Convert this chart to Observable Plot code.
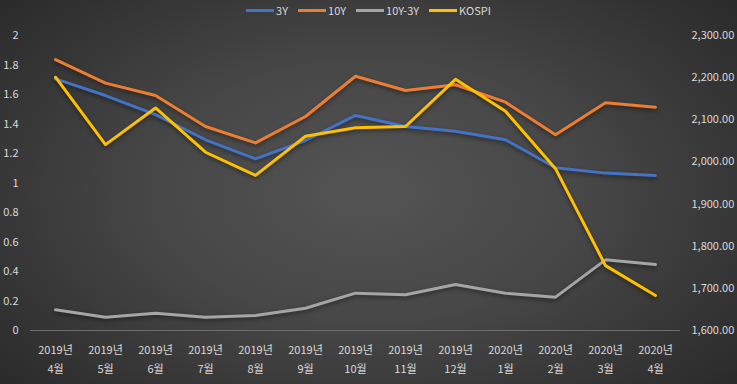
<!DOCTYPE html>
<html><head><meta charset="utf-8">
<script src="https://cdn.jsdelivr.net/npm/d3@7"></script>
<script src="https://cdn.jsdelivr.net/npm/@observablehq/plot@0.6"></script>
<style>
body{margin:0;background:#2a2a2a;}
#chart{width:737px;height:384px;background:radial-gradient(ellipse 65% 75% at 50% 50%, #545454 0%, #474747 45%, #2b2b2b 100%);font-family:"Noto Sans CJK KR","Noto Sans",sans-serif;overflow:hidden;}
#legend{height:20px;display:flex;justify-content:center;align-items:center;color:#d9d9d9;font-size:11px;padding-left:0px;}
#legend .item{display:flex;align-items:center;margin-right:10px;}
#legend .item:last-child{margin-right:0}
#legend .sw{width:28px;height:3px;margin-right:2px;}
</style></head>
<body><div id="chart"><div id="legend"></div></div>
<script>
const months = ["2019년\n4월","2019년\n5월","2019년\n6월","2019년\n7월","2019년\n8월","2019년\n9월","2019년\n10월","2019년\n11월","2019년\n12월","2020년\n1월","2020년\n2월","2020년\n3월","2020년\n4월"];
const series = ["3Y","10Y","10Y-3Y","KOSPI"];
const colors = ["#4472C4","#ED7D31","#A5A5A5","#FFC000"];
const y3 = [1.706,1.593,1.464,1.293,1.164,1.288,1.458,1.383,1.351,1.293,1.103,1.067,1.051];
const y10 = [1.837,1.677,1.593,1.383,1.272,1.451,1.724,1.627,1.666,1.548,1.327,1.544,1.514];
const spread = [0.140,0.090,0.117,0.090,0.102,0.151,0.253,0.242,0.312,0.253,0.226,0.479,0.447];
const kospi = [2201,2041,2128,2023,1968,2061,2081,2084,2196,2120,1984,1754,1683];
const leftTicks = [0,0.2,0.4,0.6,0.8,1,1.2,1.4,1.6,1.8,2];
const rightTicks = [1600,1700,1800,1900,2000,2100,2200,2300];
const kMin = 1600, kPerUnit = 350;
const toLeft = k => (k - kMin) / kPerUnit;

const rows = [];
const vals = [y3, y10, spread, kospi.map(toLeft)];
series.forEach((s, j) => months.forEach((m, i) => rows.push({m, s, v: vals[j][i]})));

const legend = document.getElementById("legend");
series.forEach((s, j) => {
  const it = document.createElement("div"); it.className = "item";
  it.innerHTML = `<span class="sw" style="background:${colors[j]}"></span><span>${s}</span>`;
  legend.appendChild(it);
});

const fmt = d3.format(",.2f");
const plot = Plot.plot({
  width: 737, height: 364,
  marginTop: 15, marginBottom: 54, marginLeft: 30, marginRight: 57,
  style: {background: "transparent", color: "#d9d9d9", fontSize: "11px", fontFamily: '"Noto Sans CJK KR","Noto Sans",sans-serif', overflow: "visible"},
  x: {type: "point", domain: months, padding: 0.5},
  y: {domain: [0, 2]},
  color: {domain: series, range: colors},
  marks: [
    Plot.ruleY([0], {stroke: "#6e6e6e", strokeWidth: 1}),
    Plot.axisY(leftTicks, {anchor: "left", tickSize: 0, tickPadding: 12, label: null, tickFormat: d => String(+d.toFixed(1)), fill: "#d9d9d9"}),
    Plot.axisY(rightTicks.map(toLeft), {anchor: "right", tickSize: 0, tickPadding: 11, label: null, textAnchor: "start", tickFormat: v => fmt(Math.round(v * kPerUnit + kMin)), fill: "#d9d9d9"}),
    Plot.axisX({tickSize: 0, tickPadding: 10, label: null, lineHeight: 1.72, fill: "#d9d9d9"}),
    Plot.line(rows, {x: "m", y: "v", z: "s", stroke: "s", strokeWidth: 3, strokeLinejoin: "round", strokeLinecap: "round"})
  ]
});
plot.querySelectorAll('g[aria-label="line"]').forEach(g => g.style.filter = "drop-shadow(0px 2px 2px rgba(0,0,0,0.45))");
document.getElementById("chart").appendChild(plot);
</script></body></html>
